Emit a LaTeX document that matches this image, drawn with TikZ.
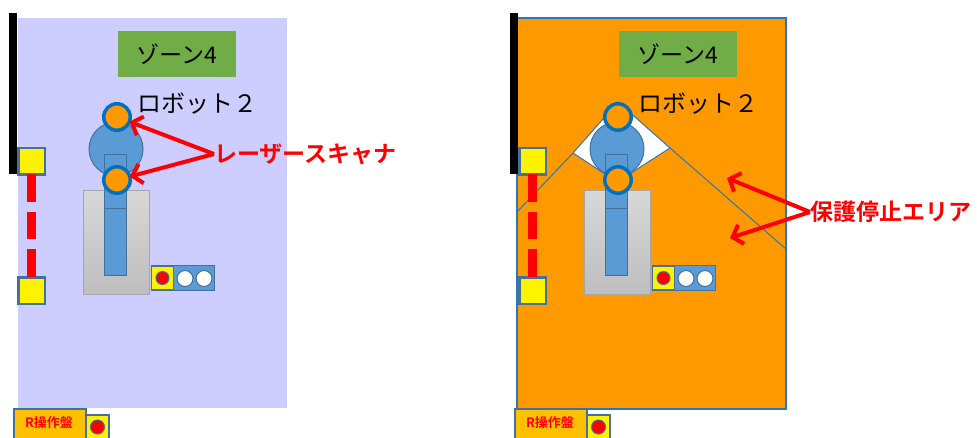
\documentclass[tikz,border=0pt]{standalone}
\usepackage{fontspec}
\newfontfamily\jp{Noto Sans CJK JP}[BoldFont={Noto Sans CJK JP Bold}]
\usetikzlibrary{arrows.meta}

\definecolor{zonebg}{HTML}{CDCDFF}
\definecolor{alarm}{HTML}{FF9900}
\definecolor{zonegreen}{HTML}{70AD47}
\definecolor{armblue}{HTML}{5B9BD5}
\definecolor{edgeblue}{HTML}{41719C}
\definecolor{scanblue}{HTML}{0070C0}
\definecolor{lineblue}{HTML}{2E75B6}
\definecolor{panelgold}{HTML}{FFC000}
\definecolor{basetop}{HTML}{D8D8D8}
\definecolor{basebot}{HTML}{BEBEBE}
\definecolor{baseedge}{HTML}{A6A6A6}

\tikzset{
  every node/.style={inner sep=0pt, outer sep=0pt},
  lamp/.style={rectangle, draw=edgeblue, line width=2.5pt, fill=yellow, minimum size=26.5pt},
  gate/.style={red, line width=9pt, dash pattern=on 27.5pt off 10pt},
  zonetag/.style={rectangle, fill=zonegreen, minimum width=118pt, minimum height=46pt,
                  font=\jp\fontsize{23}{23}\selectfont},
  robotname/.style={font=\jp\fontsize{24}{24}\selectfont, anchor=west},
  body/.style={draw=edgeblue, line width=1pt, fill=armblue},
  sensor/.style={circle, draw=scanblue, line width=3.5pt, fill=alarm, minimum size=26.5pt},
  btn/.style={circle, draw=edgeblue, line width=1pt, minimum size=#1},
  callout/.style={red, line width=4pt, -{Straight Barb[length=9pt,width=20pt]}},
  calloutlbl/.style={red, font=\jp\bfseries\fontsize{23}{23}\selectfont, anchor=west},
  zoneline/.style={lineblue, line width=1pt},
}

% Shared contents of one zone: fence, gate switches, robot, scanners, panels
\newcommand\robotcell{%
  \fill[black] (9,13) rectangle (17,174);
  \node[lamp] (gateA) at (31.5,161) {};
  \node[lamp] (gateB) at (31.5,290.5) {};
  \draw[gate] (gateA.south) -- (gateB.north);
  \node[zonetag] (zone) at (177,54) {ゾーン4};
  \node[robotname] (rname) at (137,104) {ロボット２};
  \node[circle, body, minimum size=54pt] (base) at (116,149) {};
  \node[rectangle, draw=baseedge, line width=1pt, top color=basetop, bottom color=basebot,
        minimum width=66pt, minimum height=104pt] (pedestal) at (116,242) {};
  \node[rectangle, body, minimum width=22pt, minimum height=121pt] (arm) at (115,214.5) {};
  \draw[edgeblue, line width=1pt] (arm.west |- 0,208) -- (arm.east |- 0,208);
  \node[sensor] (scanA) at (117,117) {};
  \node[sensor] (scanB) at (117,180) {};
  \node[rectangle, draw=edgeblue, line width=1.2pt, fill=yellow, minimum width=22pt, minimum height=24pt] (stopbtn) at (162.5,278) {};
  \node[btn=13pt, fill=red] (stopdot) at (stopbtn) {};
  \node[rectangle, draw=edgeblue, line width=1.2pt, fill=armblue, minimum width=41pt, minimum height=25pt,
        anchor=west] (lamps) at (stopbtn.east) {};
  \node[btn=16pt, fill=white] (lampA) at (185,278.5) {};
  \node[btn=16pt, fill=white] (lampB) at (204,278.5) {};
  \node[rectangle, draw=edgeblue, line width=2pt, fill=panelgold, minimum width=72pt, minimum height=34pt,
        anchor=north west, text=red, font=\jp\bfseries\fontsize{13}{13}\selectfont] (rpanel) at (14,409) {};
  \node[red, font=\jp\bfseries\fontsize{13}{13}\selectfont] (rpanellbl) at (49,423) {R操作盤};
  \node[rectangle, draw=edgeblue, line width=2pt, fill=yellow, minimum width=23pt, minimum height=30pt,
        anchor=north west] (rbtn) at (86,415) {};
  \node[btn=14pt, fill=red] (rbtndot) at (97.5,427) {};
}

\begin{document}
\begin{tikzpicture}[x=1pt, y=-1pt]
  \clip (0,0) rectangle (977,437);
  \fill[white] (0,0) rectangle (977,437);

  % zone with the laser scanners
  \begin{scope}[name prefix=L-]
    \fill[zonebg] (18,18) rectangle (287,408);
    \robotcell
  \end{scope}

  % same zone with the protective stop area
  \begin{scope}[xshift=501pt, name prefix=R-]
    \filldraw[fill=alarm, draw=lineblue, line width=1.5pt] (16,18) rectangle (285,409);
    \filldraw[fill=white, draw=lineblue, line width=1pt]
      (117,102) -- (169,148) -- (116,182) -- (72,153) -- cycle;
    \draw[zoneline] (72,153) -- (16,212);
    \draw[zoneline] (169,148) -- (285,249);
    \robotcell
  \end{scope}

  % callouts
  \node[calloutlbl] (scanlbl) at (214,154) {レーザースキャナ};
  \draw[callout] (scanlbl.west) -- (L-scanA);
  \draw[callout] (scanlbl.west) -- (L-scanB);

  \node[calloutlbl] (stoplbl) at (810,212) {保護停止エリア};
  \coordinate (stopA) at (727,178);
  \coordinate (stopB) at (730,238);
  \draw[callout] (stoplbl.west) -- (stopA);
  \draw[callout] (stoplbl.west) -- (stopB);
\end{tikzpicture}
\end{document}
